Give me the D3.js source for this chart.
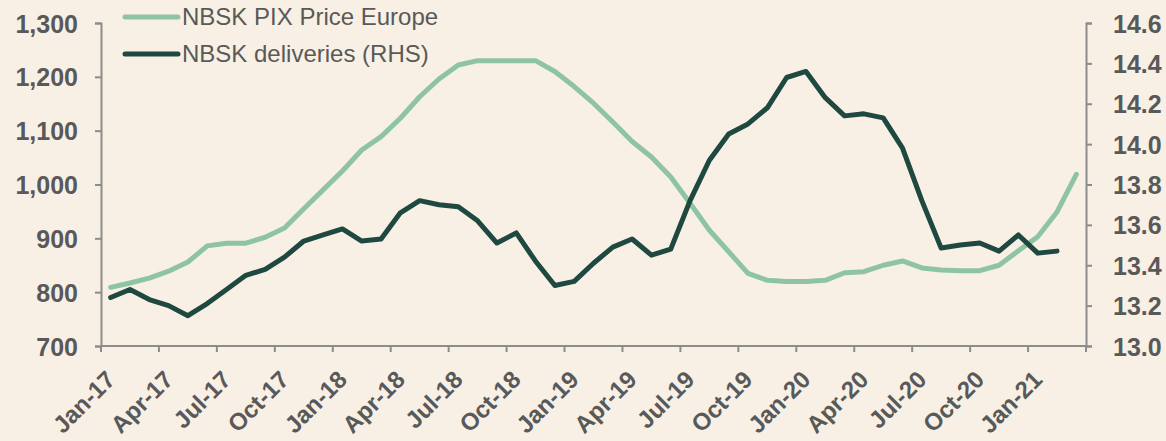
<!DOCTYPE html>
<html>
<head>
<meta charset="utf-8">
<script src="https://cdn.jsdelivr.net/npm/d3@7"></script>
<style>
  html, body { margin: 0; padding: 0; background: #F8F0E4; }
  svg { display: block; font-family: "Liberation Sans", Arial, sans-serif; }
</style>
</head>
<body>
<div id="chart"></div>
<script>
// monthly categories
var months = [
  "Jan-17","Feb-17","Mar-17","Apr-17","May-17","Jun-17","Jul-17","Aug-17","Sep-17","Oct-17","Nov-17","Dec-17",
  "Jan-18","Feb-18","Mar-18","Apr-18","May-18","Jun-18","Jul-18","Aug-18","Sep-18","Oct-18","Nov-18","Dec-18",
  "Jan-19","Feb-19","Mar-19","Apr-19","May-19","Jun-19","Jul-19","Aug-19","Sep-19","Oct-19","Nov-19","Dec-19",
  "Jan-20","Feb-20","Mar-20","Apr-20","May-20","Jun-20","Jul-20","Aug-20","Sep-20","Oct-20","Nov-20","Dec-20",
  "Jan-21","Feb-21","Mar-21"
];

// NBSK PIX Price Europe (LHS)
var price = [
  809, 817, 826, 839, 856, 886, 891, 891, 902, 919, 955, 990,
  1025, 1064, 1089, 1123, 1163, 1196, 1222, 1230, 1230, 1230, 1230, 1210,
  1182, 1151, 1116, 1080, 1051, 1014, 965, 915, 875, 835, 822, 820,
  820, 822, 836, 838, 850, 858, 845, 841, 840, 840, 850, 877,
  903, 949, 1019
];

// NBSK deliveries (RHS), last month not yet reported
var deliveries = [
  13.24, 13.28, 13.23, 13.20, 13.15, 13.21, 13.28, 13.35, 13.38, 13.44, 13.52, 13.55,
  13.58, 13.52, 13.53, 13.66, 13.72, 13.70, 13.69, 13.62, 13.51, 13.56, 13.42, 13.30,
  13.32, 13.41, 13.49, 13.53, 13.45, 13.48, 13.72, 13.92, 14.05, 14.10, 14.18, 14.33,
  14.36, 14.23, 14.14, 14.15, 14.13, 13.98, 13.72, 13.485, 13.50, 13.51, 13.47, 13.55,
  13.46, 13.47, null
];

var leftTicks = [700, 800, 900, 1000, 1100, 1200, 1300];
var rightTicks = [13.0, 13.2, 13.4, 13.6, 13.8, 14.0, 14.2, 14.4, 14.6];

var width = 1166, height = 441;
var margin = { left: 101, right: 80, top: 23, bottom: 95 };

var svg = d3.select("#chart").append("svg")
  .attr("width", width)
  .attr("height", height);

svg.append("rect").attr("width", width).attr("height", height).attr("fill", "#F8F0E4");

var x = d3.scaleBand()
  .domain(months)
  .range([margin.left, width - margin.right])
  .padding(0);

var yL = d3.scaleLinear().domain([700, 1300]).range([height - margin.bottom, margin.top]);
var yR = d3.scaleLinear().domain([13.0, 14.6]).range([height - margin.bottom, margin.top]);

var axisColor = "#8C8C8C", textColor = "#595959";
var plotBottom = yL(700);

// left axis
var gL = svg.append("g")
  .attr("transform", "translate(" + margin.left + ",0)")
  .call(d3.axisLeft(yL).tickValues(leftTicks).tickSize(6).tickPadding(17).tickFormat(d3.format(",")));
gL.select(".domain").attr("stroke", axisColor).attr("stroke-width", 2);
gL.selectAll(".tick line").attr("stroke", axisColor).attr("stroke-width", 2);
gL.selectAll(".tick text")
  .attr("fill", textColor).style("font-size", "25px").style("font-weight", "bold")
  .attr("dy", "0.36em");

// right axis
var gR = svg.append("g")
  .attr("transform", "translate(" + (width - margin.right) + ",0)")
  .call(d3.axisRight(yR).tickValues(rightTicks).tickSize(6).tickPadding(21).tickFormat(d3.format(".1f")));
gR.select(".domain").attr("stroke", axisColor).attr("stroke-width", 2);
gR.selectAll(".tick line").attr("stroke", axisColor).attr("stroke-width", 2);
gR.selectAll(".tick text")
  .attr("fill", textColor).style("font-size", "25px").style("font-weight", "bold")
  .attr("dy", "0.36em");

// bottom axis: line, ticks between categories every 3 months, rotated labels
var gB = svg.append("g");
gB.append("line")
  .attr("x1", x.range()[0]).attr("x2", x.range()[1])
  .attr("y1", plotBottom).attr("y2", plotBottom)
  .attr("stroke", axisColor).attr("stroke-width", 2);

var boundaries = months.filter(function (d, i) { return i % 3 === 0; });
gB.selectAll(".xtick").data(boundaries).enter().append("line")
  .attr("x1", function (d) { return x(d); })
  .attr("x2", function (d) { return x(d); })
  .attr("y1", plotBottom).attr("y2", plotBottom + 6)
  .attr("stroke", axisColor).attr("stroke-width", 2);
gB.append("line")
  .attr("x1", x.range()[1]).attr("x2", x.range()[1])
  .attr("y1", plotBottom).attr("y2", plotBottom + 6)
  .attr("stroke", axisColor).attr("stroke-width", 2);

gB.selectAll(".xlab").data(boundaries).enter().append("text")
  .attr("transform", function (d) {
    return "translate(" + (x(d) + x.bandwidth() / 2 + 6) + "," + (plotBottom + 35) + ") rotate(-45)";
  })
  .attr("text-anchor", "end")
  .attr("fill", textColor)
  .style("font-size", "24px")
  .style("font-weight", "bold")
  .text(function (d) { return d; });

// lines
var priceColor = "#8EC4A4", delColor = "#1E4840";

var linePrice = d3.line()
  .x(function (d, i) { return x(months[i]) + x.bandwidth() / 2; })
  .y(function (d) { return yL(d); });

var lineDel = d3.line()
  .defined(function (d) { return d != null; })
  .x(function (d, i) { return x(months[i]) + x.bandwidth() / 2; })
  .y(function (d) { return yR(d); });

svg.append("path").datum(price)
  .attr("d", linePrice)
  .attr("fill", "none").attr("stroke", priceColor)
  .attr("stroke-width", 5).attr("stroke-linejoin", "round").attr("stroke-linecap", "round");

svg.append("path").datum(deliveries)
  .attr("d", lineDel)
  .attr("fill", "none").attr("stroke", delColor)
  .attr("stroke-width", 5).attr("stroke-linejoin", "round").attr("stroke-linecap", "round");

// legend
var legend = [
  { name: "NBSK PIX Price Europe", color: priceColor, y: 17 },
  { name: "NBSK deliveries (RHS)", color: delColor, y: 54 }
];
var lg = svg.append("g");
legend.forEach(function (l) {
  lg.append("line")
    .attr("x1", 125).attr("x2", 178).attr("y1", l.y).attr("y2", l.y)
    .attr("stroke", l.color).attr("stroke-width", 5).attr("stroke-linecap", "round");
  lg.append("text")
    .attr("x", 182).attr("y", l.y).attr("dy", "0.35em")
    .attr("fill", textColor).style("font-size", "24px")
    .text(l.name);
});
</script>
</body>
</html>
